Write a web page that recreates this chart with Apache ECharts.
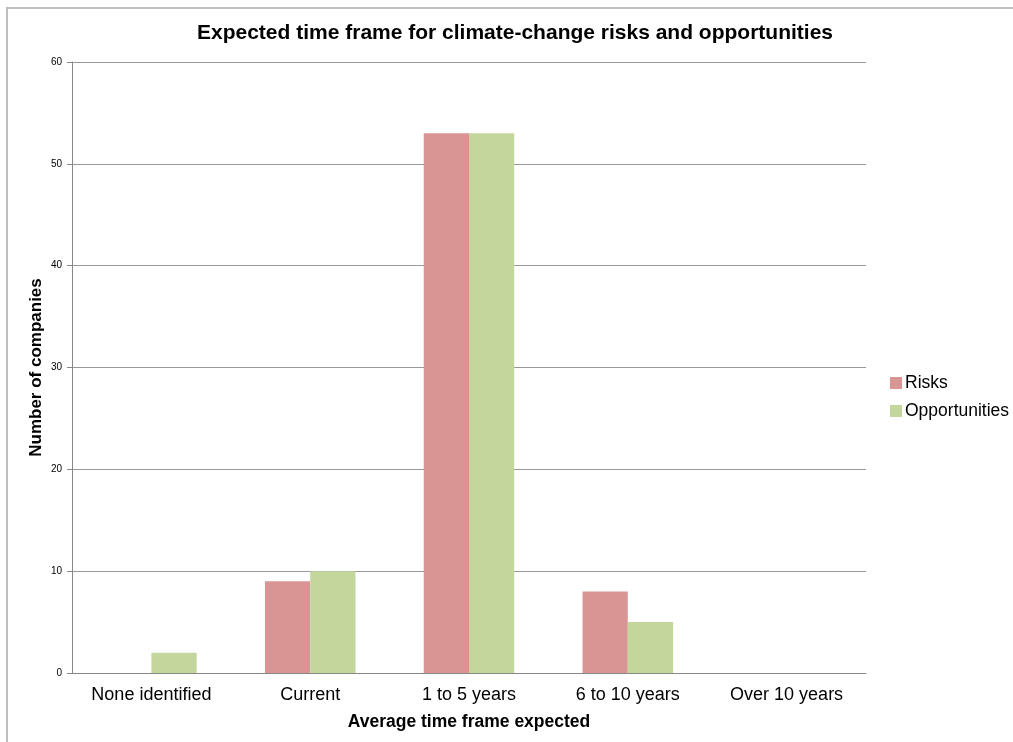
<!DOCTYPE html>
<html>
<head>
<meta charset="utf-8">
<script src="https://cdn.jsdelivr.net/npm/echarts@6/dist/echarts.min.js"></script>
<style>
  html, body { margin: 0; padding: 0; background: #fff; }
  #frame { position: absolute; left: 6px; top: 7px; width: 1013px; height: 740px;
           border-left: 2px solid #bdbdbd; border-top: 2px solid #bdbdbd; box-sizing: border-box; }
  #chart { position: absolute; left: 0; top: 0; width: 1013px; height: 742px; }
</style>
</head>
<body>
<div id="frame"></div>
<div id="chart"></div>
<script>
// Time-frame categories and company counts per series
const categories = ['None identified', 'Current', '1 to 5 years', '6 to 10 years', 'Over 10 years'];
const risks = [0, 9, 53, 8, 0];
const opportunities = [2, 10, 53, 5, 0];
const yTicks = { min: 0, max: 60, interval: 10 };

const chart = echarts.init(document.getElementById('chart'), null, { renderer: 'canvas' });
chart.setOption({
  animation: false,
  title: {
    text: 'Expected time frame for climate-change risks and opportunities',
    left: 510, top: 18, textAlign: 'center',
    textStyle: { fontFamily: 'Liberation Sans', fontSize: 21, fontWeight: 'bold', color: '#000' }
  },
  legend: {
    orient: 'vertical', left: 885, top: 369, itemGap: 10,
    itemWidth: 12, itemHeight: 12, icon: 'rect',
    textStyle: { fontFamily: 'Liberation Sans', fontSize: 17.5, color: '#000', padding: [0, 0, 0, -2] },
    data: ['Risks', 'Opportunities']
  },
  grid: { left: 72, right: 147, top: 62, bottom: 69, containLabel: false },
  xAxis: {
    type: 'category', data: categories,
    name: 'Average time frame expected', nameLocation: 'middle', nameGap: 40,
    nameTextStyle: { fontFamily: 'Liberation Sans', fontSize: 17.5, fontWeight: 'bold', color: '#000' },
    axisLine: { lineStyle: { color: '#888', width: 1 } },
    axisTick: { show: false },
    axisLabel: { fontFamily: 'Liberation Sans', fontSize: 18, color: '#000', margin: 13 }
  },
  yAxis: {
    type: 'value', min: yTicks.min, max: yTicks.max, interval: yTicks.interval,
    name: 'Number of companies', nameLocation: 'middle', nameGap: 27, nameMoveOverlap: false,
    nameTextStyle: { fontFamily: 'Liberation Sans', fontSize: 17, fontWeight: 'bold', color: '#000' },
    axisLine: { show: true, lineStyle: { color: '#888', width: 1 } },
    axisTick: { show: true, length: 5, lineStyle: { color: '#888' } },
    axisLabel: { fontFamily: 'Liberation Sans', fontSize: 10, color: '#000', margin: 10 },
    splitLine: { lineStyle: { color: '#999', width: 1 } }
  },
  series: [
    { name: 'Risks', type: 'bar', data: risks, barGap: '0%', barCategoryGap: '43%',
      itemStyle: { color: '#d99594' } },
    { name: 'Opportunities', type: 'bar', data: opportunities,
      itemStyle: { color: '#c3d69b' } }
  ]
});
</script>
</body>
</html>
